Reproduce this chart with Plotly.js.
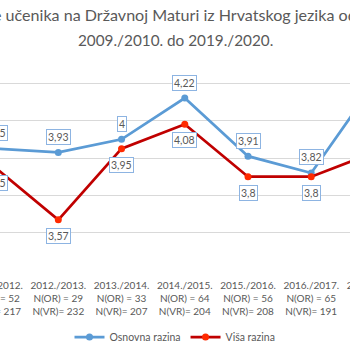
<!DOCTYPE html>
<html>
<head>
<meta charset="utf-8">
<script src="https://cdn.plot.ly/plotly-3.0.1.min.js"></script>
<style>
html, body { margin:0; padding:0; width:350px; height:350px; overflow:hidden; background:#ffffff; }
#chart { position:absolute; left:-60px; top:0; width:470px; height:350px; }
</style>
</head>
<body>
<div id="chart"></div>
<script>
// ---- data ----
const categories = ['2011./2012.', '2012./2013.', '2013./2014.', '2014./2015.', '2015./2016.', '2016./2017.', '2017./2018.'];
const nOR = [52, 29, 33, 64, 56, 65, null];
const nVR = [217, 232, 207, 204, 208, 191, null];
const osnovnaRazina = [3.95, 3.93, 4.00, 4.22, 3.91, 3.82, 4.30];
const visaRazina = [3.85, 3.57, 3.95, 4.08, 3.80, 3.80, 3.93];
const seriesNames = ['Osnovna razina', 'Viša razina'];
const titleLine1 = 'Prosječne ocjene učenika na Državnoj Maturi iz Hrvatskog jezika od';
const titleLine2 = '2009./2010. do 2019./2020.';
const yGrid = [3.5, 3.7, 3.9, 4.1, 4.3];

// ---- build ----
const FONT = 'Lato, "Open Sans", sans-serif';
const TXT = '#595959';
const xLabels = categories.map((c, i) =>
  c + '<br>N(OR) = ' + (nOR[i] == null ? '' : nOR[i]) + '<br>N(VR)= ' + (nVR[i] == null ? '' : nVR[i]));
const fmt = v => String(v).replace('.', ',');

const traces = [
  { x: xLabels, y: osnovnaRazina, name: seriesNames[0], type: 'scatter', mode: 'lines+markers',
    line: { color: '#5B9BD5', width: 2.75 }, marker: { color: '#5B9BD5', size: 7 }, hoverinfo: 'none' },
  { x: xLabels, y: visaRazina, name: seriesNames[1], type: 'scatter', mode: 'lines+markers',
    line: { color: '#C00000', width: 2.75 }, marker: { color: '#FF2A00', size: 7 }, hoverinfo: 'none' }
];

const annotations = [];
const boxStyle = { showarrow: false, bgcolor: '#ffffff', bordercolor: '#8DB4E2', borderwidth: 1, borderpad: 1,
  font: { family: FONT, size: 10.5, color: TXT }, xref: 'x', yref: 'y' };
xLabels.forEach((xl, i) => {
  annotations.push(Object.assign({}, boxStyle, { x: i, y: osnovnaRazina[i], text: fmt(osnovnaRazina[i]), yshift: 15.5 }));
  annotations.push(Object.assign({}, boxStyle, { x: i, y: visaRazina[i], text: fmt(visaRazina[i]), yshift: -16 }));
});
annotations.push({ text: titleLine1, xref: 'paper', yref: 'paper', x: 419 / 470, xanchor: 'right', y: 1.183, yanchor: 'middle',
  showarrow: false, font: { family: FONT, size: 16.1, color: TXT } });
annotations.push({ text: titleLine2, xref: 'paper', yref: 'paper', x: 0.5, xanchor: 'center', y: 1.066, yanchor: 'middle',
  showarrow: false, font: { family: FONT, size: 15.3, color: TXT } });

const layout = {
  width: 470, height: 350,
  margin: { l: 0, r: 0, t: 55, b: 74, pad: 0 },
  paper_bgcolor: '#ffffff', plot_bgcolor: '#ffffff',
  font: { family: FONT, color: TXT },
  showlegend: true,
  legend: { orientation: 'h', x: 0.5, xanchor: 'center', yref: 'container', y: 0.037, yanchor: 'middle',
    font: { family: FONT, size: 10.5, color: TXT }, itemwidth: 30 },
  xaxis: { type: 'category', range: [-0.871, 6.562], showgrid: false, zeroline: false, showline: false,
    ticks: '', ticklabelstandoff: 2, tickfont: { family: FONT, size: 10, color: TXT }, automargin: false },
  yaxis: { range: [3.27, 4.45], tickmode: 'array', tickvals: yGrid, showticklabels: false,
    showgrid: true, gridcolor: '#D9D9D9', gridwidth: 1, zeroline: false, showline: false, automargin: false },
  annotations: annotations
};

Plotly.newPlot('chart', traces, layout, { displayModeBar: false, staticPlot: true });
</script>
</body>
</html>
